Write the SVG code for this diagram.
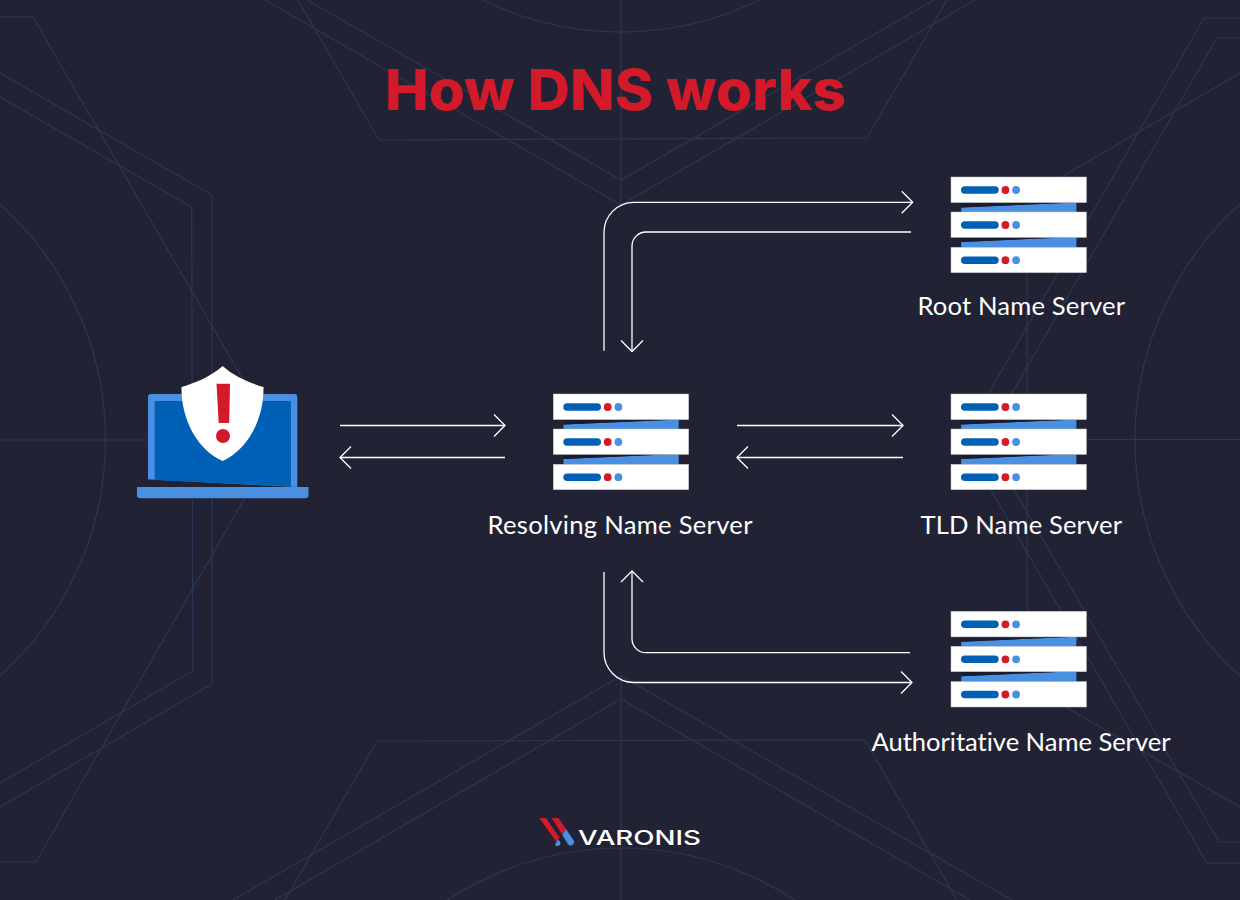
<svg xmlns="http://www.w3.org/2000/svg" xmlns:xlink="http://www.w3.org/1999/xlink" width="1240" height="900" viewBox="0 0 1240 900">
<style>
.bg{fill:none;stroke:#2a3755;stroke-width:1.2}
.c{fill:none;stroke:#fff;stroke-width:1.3}
.label{font-family:"Lato","Liberation Sans",sans-serif;font-size:25.6px;font-weight:400;fill:#fff;font-variant-ligatures:none}
.title{font-family:"Inter","Liberation Sans",sans-serif;font-size:56px;font-weight:800;fill:#d21a2a}
.wm{font-family:"Inter","Liberation Sans",sans-serif;font-size:20.5px;font-weight:500;fill:#fff}
.lb{fill:#4a90e2}.db{fill:#0060b5}.rd{fill:#d21a2a}.wh{fill:#fff}
</style>
<defs>
<marker id="h" markerUnits="userSpaceOnUse" markerWidth="16" markerHeight="28" refX="13.5" refY="14" orient="auto" viewBox="0 0 16 28">
<path d="M2.5 3 L13.5 14 L2.5 25" fill="none" stroke="#fff" stroke-width="1.3"/>
</marker>
<g id="srv">
<path class="lb" d="M563.5 424.4 L678.7 419.5 V429.5 H563.5Z"/>
<path fill="#191b2e" d="M563.5 419.5 H678.7 L563.5 424.4Z"/>
<path class="lb" d="M563.5 459 L665 454.5 H678.7 V464.5 H563.5Z"/>
<path fill="#191b2e" d="M563.5 454.5 H665 L563.5 459Z"/>
<g class="wh" stroke="#c4c4c8" stroke-width=".5">
<rect x="553.3" y="394" width="135.4" height="25.6"/>
<rect x="553.3" y="429" width="135.4" height="25.4"/>
<rect x="553.3" y="464.3" width="135.4" height="25.4"/>
</g>
<rect class="db" x="563.3" y="403.2" width="37.7" height="7.6" rx="3.8"/>
<rect class="db" x="563.3" y="438.2" width="37.7" height="7.6" rx="3.8"/>
<rect class="db" x="563.3" y="473.4" width="37.7" height="7.6" rx="3.8"/>
<circle class="rd" cx="607.7" cy="407" r="3.9"/><circle class="lb" cx="618.4" cy="407" r="3.9"/>
<circle class="rd" cx="607.7" cy="442" r="3.9"/><circle class="lb" cx="618.4" cy="442" r="3.9"/>
<circle class="rd" cx="607.7" cy="477.2" r="3.9"/><circle class="lb" cx="618.4" cy="477.2" r="3.9"/>
</g>
</defs>
<rect width="1240" height="900" fill="#212334"/>
<g id="background">
<path class="bg" d="M0 17H33L278 440L36 862H0"/>
<path class="bg" d="M0 73L212 195V684L0 807"/>
<path class="bg" d="M0 97L191.7 207L192.8 671L0 783"/>
<circle class="bg" cx="-210" cy="440" r="315.5"/>
<path class="bg" d="M0 440H150"/>
<path class="bg" d="M1086 439.5H1240"/>
<path class="bg" d="M298 0L379 140L867 138L947 0"/>
<path class="bg" d="M307 0L621 180L934 0"/>
<path class="bg" d="M265 0L621 205L975 0"/>
<path class="bg" d="M621 0V205"/>
<path class="bg" d="M285 900L377 741L865 740L957 900"/>
<path class="bg" d="M233 900L621 676L1012 900"/>
<path class="bg" d="M275 900L621 699L970 900"/>
<path class="bg" d="M621 676V900"/>
<path class="bg" d="M1240 18H1204L962 440L1207 863H1240"/>
<path class="bg" d="M1240 38H1217L985 440L1219 842H1240"/>
<path class="bg" d="M1240 73L1027 197V685L1240 807"/>
<circle class="bg" cx="1452.7" cy="440" r="317.7"/>
<circle class="bg" cx="621" cy="-284" r="316"/>
<circle class="bg" cx="621" cy="1163" r="315"/>
</g>
<text class="title" x="385" y="110" textLength="461" lengthAdjust="spacingAndGlyphs">How DNS works</text>
<g id="connectors">
<path class="c" marker-end="url(#h)" d="M604 350.7V232.3A30 30 0 0 1 634 202.3H912.7"/>
<path class="c" marker-end="url(#h)" d="M911 232H646A14 14 0 0 0 632 246V351.5"/>
<path class="c" marker-end="url(#h)" d="M340 425.5H505"/>
<path class="c" marker-end="url(#h)" d="M505 457.5H340"/>
<path class="c" marker-end="url(#h)" d="M737 425.5H903"/>
<path class="c" marker-end="url(#h)" d="M903 457.5H737"/>
<path class="c" marker-end="url(#h)" d="M910 652.7H646A14 14 0 0 1 632 638.7V571"/>
<path class="c" marker-end="url(#h)" d="M604 572V652.5A30 30 0 0 0 634 682.5H912"/>
</g>
<g id="client">
<path class="lb" d="M148 479.3V397A3 3 0 0 1 151 394H294.3A3 3 0 0 1 297.3 397V487H148Z"/>
<path fill="#212334" d="M147 479.3L297.3 487H147Z"/>
<path class="db" d="M154.7 402.5A1.5 1.5 0 0 1 156.2 401H289.5A1.5 1.5 0 0 1 291 402.5V486.5L154.7 480Z"/>
<path class="lb" d="M137 487H308.5V495A3.3 3.3 0 0 1 305.2 498.3H140.3A3.3 3.3 0 0 1 137 495Z"/>
<path class="wh" d="M222.7 366C210 377 195 383 181.5 387C181 420 198 450 222.7 461C247 450 264 420 263.5 387C250 383 235 377 222.7 366Z"/>
<path class="rd" d="M216.5 383.7H230L229.2 423H218.7Z"/>
<circle class="rd" cx="223" cy="436" r="7"/>
</g>
<g id="resolving"><use href="#srv"/><text class="label" x="487.5" y="534" textLength="265">Resolving Name Server</text></g>
<g id="root"><use href="#srv" x="397.7" y="-217"/><text class="label" x="917.5" y="315" textLength="207.5">Root Name Server</text></g>
<g id="tld"><use href="#srv" x="397.7"/><text class="label" x="920.5" y="534" textLength="201.5">TLD Name Server</text></g>
<g id="authoritative"><use href="#srv" x="397.7" y="217.3"/><text class="label" x="871.5" y="751" textLength="299">Authoritative Name Server</text></g>
<g id="logo">
<path class="rd" d="M539.3 818H546L559.5 837.5L556.5 842Z"/>
<path class="lb" d="M559.7 841.5A2.8 2.8 0 1 1 555 844.5L556.6 842L558.6 839.8Z"/>
<path class="rd" d="M551.7 818H558.4L566 829L562.4 835Z"/>
<path class="lb" d="M566 829L573 839.5A2.9 2.9 0 0 1 568 844.3L562.4 835Z"/>
<text class="wm" x="578" y="845" textLength="123" lengthAdjust="spacingAndGlyphs">VARONIS</text>
</g>
</svg>
